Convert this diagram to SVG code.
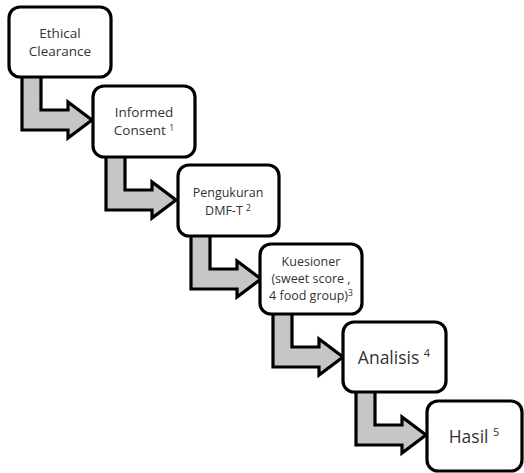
<svg xmlns="http://www.w3.org/2000/svg" width="524" height="473" viewBox="0 0 524 473">
<style>
.box{fill:#ffffff;stroke:#000000;stroke-width:3.2}
.arr{fill:#c6c6c6;stroke:#000000;stroke-width:3.2;stroke-linejoin:miter}
text{font-family:"Open Sans","Liberation Sans",sans-serif;fill:#333333;text-anchor:middle}
.s{font-size:13.5px}
.m{font-size:12.5px}
.l{font-size:17.5px}
.sup{font-size:8.5px}
.supl{font-size:11px}
</style>
<defs>
<path id="bent" d="M13,-2 L32,-2 L32,33 L59,33 L59,25 L83,43 L59,61 L59,53 L13,53 Z"/>
</defs>
<g id="connectors">
<use href="#bent" class="arr" transform="translate(9,77)"/>
<use href="#bent" class="arr" transform="translate(93,157)"/>
<use href="#bent" class="arr" transform="translate(178,236)"/>
<use href="#bent" class="arr" transform="translate(260,314)"/>
<use href="#bent" class="arr" transform="translate(343,392)"/>
</g>
<g id="n1">
<rect class="box" x="9" y="7" width="102" height="70" rx="11"/>
<text class="s" x="60" y="38">Ethical</text>
<text class="s" x="60" y="56">Clearance</text>
</g>
<g id="n2">
<rect class="box" x="93" y="86" width="102" height="71" rx="11"/>
<text class="s" x="144" y="117">Informed</text>
<text class="s" x="144" y="135">Consent <tspan class="sup" dy="-4">1</tspan></text>
</g>
<g id="n3">
<rect class="box" x="178" y="165" width="101" height="71" rx="11"/>
<text class="m" x="228" y="197">Pengukuran</text>
<text class="m" x="228" y="215">DMF-T <tspan class="sup" dy="-4">2</tspan></text>
</g>
<g id="n4">
<rect class="box" x="260" y="244" width="102" height="70" rx="11"/>
<text class="m" x="311" y="266">Kuesioner</text>
<text class="m" x="311" y="283">(sweet score ,</text>
<text class="m" x="311" y="300">4 food group)<tspan class="sup" dy="-4">3</tspan></text>
</g>
<g id="n5">
<rect class="box" x="343" y="322" width="103" height="70" rx="11"/>
<text class="l" x="394" y="364">Analisis <tspan class="supl" dy="-7">4</tspan></text>
</g>
<g id="n6">
<rect class="box" x="427" y="401" width="95" height="70" rx="11"/>
<text class="l" x="474" y="443">Hasil <tspan class="supl" dy="-7">5</tspan></text>
</g>
</svg>
